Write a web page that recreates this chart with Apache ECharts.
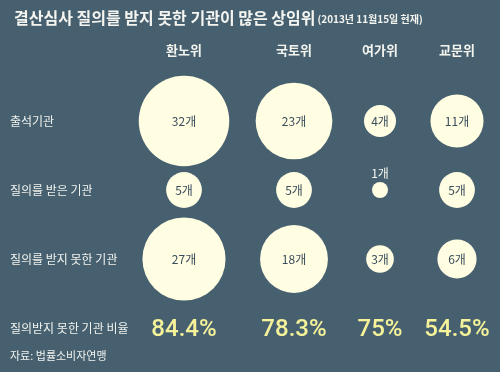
<!DOCTYPE html>
<html><head><meta charset="utf-8">
<script src="https://cdn.jsdelivr.net/npm/echarts@6/dist/echarts.min.js"></script>
<style>html,body{margin:0;padding:0;background:#46606f}#c{width:500px;height:372px}</style>
</head><body><div id="c"></div>
<script>
const committees = ['환노위', '국토위', '여가위', '교문위'];
const rowLabels = ['출석기관', '질의를 받은 기관', '질의를 받지 못한 기관', '질의받지 못한 기관 비율'];
const attended = [32, 23, 4, 11];
const questioned = [5, 5, 1, 5];
const notQuestioned = [27, 18, 3, 6];
const ratio = ['84.4%', '78.3%', '75%', '54.5%'];

const centers = [184, 294, 380, 457];
const gw = 60;
const FONT = '"Noto Sans CJK KR", "Noto Sans", sans-serif';

const grids = [], xAxes = [], yAxes = [], series = [];
committees.forEach((c, i) => {
  grids.push({left: centers[i] - gw / 2, width: gw, top: 86.5, height: 276});
  xAxes.push({type: 'category', gridIndex: i, data: [c], position: 'top',
    axisLine: {show: false}, axisTick: {show: false}, splitLine: {show: false},
    axisLabel: {margin: 30, color: '#f4f4ee', fontSize: 13, fontWeight: 'bold', fontFamily: FONT}});
  yAxes.push({type: 'category', gridIndex: i, data: rowLabels, inverse: true,
    axisLine: {show: false}, axisTick: {show: false}, splitLine: {show: false},
    axisLabel: i === 0 ? {show: true, align: 'left', margin: centers[0] - gw / 2 - 10,
      color: '#f1f3ee', fontSize: 12, fontFamily: FONT} : {show: false}});
  const vals = [attended[i], questioned[i], notQuestioned[i]];
  series.push({
    type: 'scatter', xAxisIndex: i, yAxisIndex: i, silent: true,
    data: vals.map((v, j) => {
      const size = 16 * Math.sqrt(v);
      const small = v === 1;
      return {value: [c, rowLabels[j], v], symbolSize: size,
        label: {position: small ? 'top' : 'inside',
          color: small ? '#f4f4ee' : '#3a4d5c', distance: 3}};
    }),
    itemStyle: {color: '#fffde2', opacity: 1},
    label: {show: true, formatter: p => p.value[2] + '개', fontSize: 12, fontFamily: FONT, opacity: 1}
  });
  series.push({
    type: 'scatter', xAxisIndex: i, yAxisIndex: i, silent: true,
    data: [[c, rowLabels[3], ratio[i]]], symbolSize: 2,
    itemStyle: {color: 'rgba(0,0,0,0)', opacity: 1},
    label: {show: true, position: 'inside', formatter: p => p.value[2], opacity: 1,
      color: '#f6f29a', fontSize: 24, fontWeight: 500, fontFamily: 'Roboto, sans-serif', offset: [0, 2]}
  });
});

const chart = echarts.init(document.getElementById('c'), null, {renderer: 'canvas'});
chart.setOption({
  backgroundColor: '#46606f',
  animation: false,
  title: {
    left: 9, top: 5,
    text: '{a|결산심사 질의를 받지 못한 기관이 많은 상임위}{b|(2013년 11월15일 현재)}',
    textStyle: {rich: {
      a: {fontSize: 16, fontWeight: 'bold', color: '#f4f4f0', fontFamily: FONT},
      b: {fontSize: 10, color: '#f4f4f0', fontFamily: FONT, padding: [2, 0, 0, 2]}
    }}
  },
  graphic: [{type: 'text', left: 10, top: 350,
    style: {text: '자료: 법률소비자연맹', fill: '#f1f3ee', fontSize: 11, fontFamily: FONT}}],
  grid: grids, xAxis: xAxes, yAxis: yAxes, series: series
});
</script></body></html>
